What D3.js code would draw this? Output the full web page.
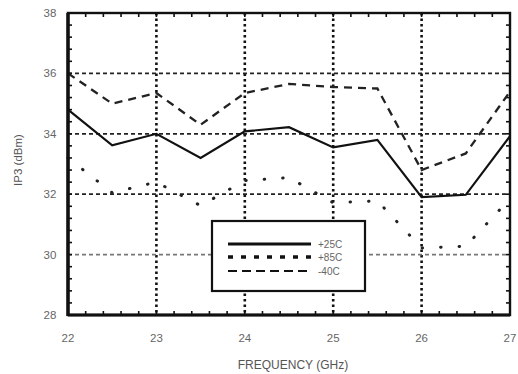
<!DOCTYPE html>
<html>
<head>
<meta charset="utf-8">
<script src="https://d3js.org/d3.v7.min.js"></script>
<style>
  body { margin: 0; background: #fff; }
  text { font-family: "Liberation Sans", Arial, sans-serif; }
</style>
</head>
<body>
<svg width="518" height="374"></svg>
<script>
// chart values
var freqs = [22, 22.5, 23, 23.5, 24, 24.5, 25, 25.5, 26, 26.5, 27];
var ip3_25C = [34.8, 33.62, 34.0, 33.2, 34.08, 34.22, 33.55, 33.8, 31.9, 31.98, 33.92];
var ip3_85C = [33.2, 32.05, 32.4, 31.62, 32.45, 32.55, 31.72, 31.78, 30.22, 30.28, 31.85];
var ip3_m40C = [36.0, 35.0, 35.35, 34.3, 35.35, 35.65, 35.55, 35.5, 32.8, 33.35, 35.4];
var xTicks = [22, 23, 24, 25, 26, 27];
var yTicks = [28, 30, 32, 34, 36, 38];
var seriesNames = ["+25C", "+85C", "-40C"];

var svg = d3.select("svg");

//plot box (note: "top" is taken by window, so use other names)
var pLeft = 68, pRight = 510, pTop = 13, pBottom = 315;
var xs = d3.scaleLinear().domain([22, 27]).range([pLeft, pRight]);
var ys = d3.scaleLinear().domain([28, 38]).range([pBottom, pTop]);

//grid lines, vertical dotted
svg.append("g").selectAll("line")
    .data(xTicks.slice(1, -1))
    .enter().append("line")
    .attr("x1", d => xs(d)).attr("x2", d => xs(d))
    .attr("y1", pTop).attr("y2", pBottom)
    .style("stroke", "#111").style("stroke-width", 2.6)
    .style("stroke-dasharray", "2.5,3");

//grid lines, horizontal dashed
svg.append("g").selectAll("line")
    .data(yTicks.slice(1, -1))
    .enter().append("line")
    .attr("x1", pLeft).attr("x2", pRight)
    .attr("y1", d => ys(d)).attr("y2", d => ys(d))
    .style("stroke", d => d == 30 ? "#777" : "#222").style("stroke-width", 1.8)
    .style("stroke-dasharray", "4,3");

//minor ticks pointing inward
var xMinor = d3.range(0, 26).map(i => 22 + i * 0.2);
var yMinor = d3.range(0, 26).map(i => 28 + i * 0.4);
var ticks = svg.append("g").style("stroke", "#111").style("stroke-width", 1.6);
xMinor.forEach(function(v) {
    ticks.append("line").attr("x1", xs(v)).attr("x2", xs(v)).attr("y1", pBottom).attr("y2", pBottom - 4);
    ticks.append("line").attr("x1", xs(v)).attr("x2", xs(v)).attr("y1", pTop).attr("y2", pTop + 4);
});
yMinor.forEach(function(v) {
    ticks.append("line").attr("x1", pLeft).attr("x2", pLeft + 4).attr("y1", ys(v)).attr("y2", ys(v));
    ticks.append("line").attr("x1", pRight).attr("x2", pRight - 4).attr("y1", ys(v)).attr("y2", ys(v));
});

//the three curves
var line = d3.line().x((d, i) => xs(freqs[i])).y(d => ys(d));

svg.append("path").datum(ip3_m40C)
    .attr("d", line).style("fill", "none")
    .style("stroke", "#222").style("stroke-width", 2.3)
    .style("stroke-dasharray", "8,6");

svg.append("path").datum(ip3_85C)
    .attr("d", line).style("fill", "none")
    .style("stroke", "#222").style("stroke-width", 3)
    .style("stroke-linecap", "round")
    .style("stroke-dasharray", "0.5,18");

svg.append("path").datum(ip3_25C)
    .attr("d", line).style("fill", "none")
    .style("stroke", "#111").style("stroke-width", 2.2);

//frame
svg.append("rect")
    .attr("x", pLeft).attr("y", pTop)
    .attr("width", pRight - pLeft).attr("height", pBottom - pTop)
    .style("fill", "none").style("stroke", "#111").style("stroke-width", 2.4);
svg.append("line").attr("x1", pLeft).attr("x2", pLeft).attr("y1", pTop).attr("y2", pBottom + 1)
    .style("stroke", "#111").style("stroke-width", 3.5);
svg.append("line").attr("x1", pLeft).attr("x2", pRight).attr("y1", pBottom).attr("y2", pBottom)
    .style("stroke", "#111").style("stroke-width", 3.2);

//tick labels
svg.append("g").selectAll("text")
    .data(xTicks).enter().append("text")
    .attr("x", d => xs(d)).attr("y", 342)
    .attr("text-anchor", "middle")
    .style("font-size", "11.5px").style("fill", "#666")
    .text(d => d);

svg.append("g").selectAll("text")
    .data(yTicks).enter().append("text")
    .attr("x", 50).attr("y", d => ys(d) + 4)
    .attr("text-anchor", "middle")
    .style("font-size", "11.5px").style("fill", "#666")
    .text(d => d);

//axis titles
svg.append("text")
    .attr("x", 293).attr("y", 369)
    .attr("text-anchor", "middle")
    .style("font-size", "12px").style("fill", "#555")
    .text("FREQUENCY (GHz)");

svg.append("text")
    .attr("transform", "translate(22,160) rotate(-90)")
    .attr("text-anchor", "middle")
    .style("font-size", "11.5px").style("fill", "#555")
    .text("IP3 (dBm)");

//legend
var legend = svg.append("g");
legend.append("rect")
    .attr("x", 212).attr("y", 221).attr("width", 153).attr("height", 70)
    .style("fill", "#fff").style("stroke", "#111").style("stroke-width", 2.2);

var legendStyles = [
    {dash: null, width: 3},
    {dash: "5,8", width: 3.5},
    {dash: "9,5", width: 2.2}
];
var legendY = [244, 257, 271];
seriesNames.forEach(function(name, i) {
    legend.append("line")
        .attr("x1", 228).attr("x2", 311)
        .attr("y1", legendY[i]).attr("y2", legendY[i])
        .style("stroke", "#111").style("stroke-width", legendStyles[i].width)
        .style("stroke-dasharray", legendStyles[i].dash);
    legend.append("text")
        .attr("x", 318).attr("y", legendY[i] + 3.5)
        .style("font-size", "10px").style("fill", "#666")
        .text(name);
});
</script>
</body>
</html>
